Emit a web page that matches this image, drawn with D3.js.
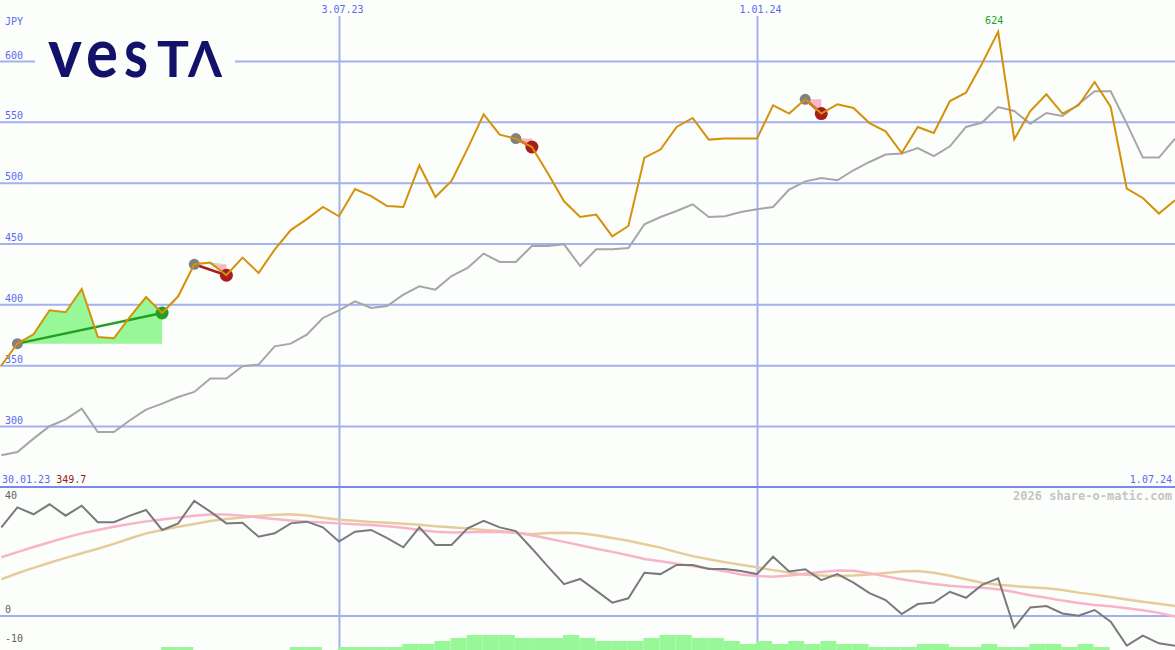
<!DOCTYPE html>
<html><head><meta charset="utf-8">
<script src="https://cdn.jsdelivr.net/npm/d3@7"></script>
<style>html,body{margin:0;padding:0;background:#fcfefc;} svg{display:block;}</style>
</head><body><svg id="c" width="1175" height="650"></svg>
<script>
// ---------- data (weekly, Mondays from 6 Feb 2023) ----------
const price = [349.7,367.7,375.4,395.1,393.5,412.6,373.2,372.1,389.6,406.0,
  392.9,406.6,432.9,434.3,423.9,438.4,425.8,445.0,461.0,470.0,
  480.0,472.4,494.8,489.0,480.8,480.0,514.3,488.2,501.4,528.0,
  556.2,539.5,536.2,529.3,507.5,484.7,471.8,473.8,455.9,464.4,
  520.6,527.2,545.8,553.2,535.4,536.2,536.2,536.2,563.6,556.8,
  568.5,556.8,564.4,561.4,549.0,542.2,524.4,545.8,540.8,567.1,
  574.0,598.0,624.0,535.6,558.9,572.6,556.8,563.6,582.7,562.2,
  495.1,487.4,474.6,485.5];
const bench = [275.9,278.6,289.6,299.8,305.5,314.3,295.1,295.1,304.7,313.5,
  318.4,323.8,328.0,339.0,339.0,349.1,350.5,365.5,367.7,375.1,
  388.8,395.1,402.5,397.0,398.6,408.0,414.8,412.1,423.3,429.9,
  441.7,434.8,434.8,448.0,448.0,449.3,431.5,445.2,445.2,446.3,
  465.8,471.8,476.7,482.2,471.8,472.4,475.9,478.1,480.0,494.3,
  501.1,503.8,502.0,510.2,517.0,523.1,523.9,528.5,521.9,529.9,
  545.8,549.4,562.2,558.9,548.5,557.3,554.8,564.4,575.1,575.1,
  548.5,520.6,520.6,536.2];
const momentum = [31.1,38.1,35.7,39.2,35.2,38.7,32.9,32.9,35.2,37.2,
  30.2,32.5,40.4,36.6,32.5,32.7,27.8,29.0,32.5,33.1,
  31.1,26.1,29.6,30.2,27.3,24.1,31.1,24.9,24.9,30.8,
  33.4,31.1,29.8,23.7,17.3,11.2,13.0,8.9,4.7,6.2,
  15.2,14.7,17.9,17.9,16.5,16.5,15.8,14.7,20.8,15.6,
  16.4,12.6,14.7,11.7,8.0,5.6,0.7,4.2,4.7,8.5,
  6.4,10.9,13.2,-4.1,3.0,3.5,0.9,0.1,2.1,-2.0,
  -10.4,-6.9,-9.6,-10.4];
const avgPink = [20.6,22.4,24.2,25.9,27.5,29.0,30.2,31.3,32.3,33.2,
  33.9,34.6,35.2,35.6,35.6,35.2,34.6,34.0,33.5,33.1,
  32.8,32.5,32.2,31.9,31.5,31.0,30.2,29.6,29.3,29.4,
  29.6,29.5,29.2,28.3,27.2,26.0,24.8,23.6,22.5,21.3,
  20.0,19.2,18.3,17.5,16.7,15.7,14.6,14.0,13.8,14.2,
  14.8,15.4,16.0,15.9,15.0,13.9,12.9,12.0,11.2,10.6,
  10.2,9.9,9.4,8.4,7.3,6.4,5.4,4.6,3.9,3.4,
  2.7,2.0,1.1,-0.2];
const avgTan = [12.9,15.0,16.9,18.7,20.4,22.0,23.6,25.3,27.2,29.0,
  30.2,31.3,32.3,33.3,34.0,34.6,35.1,35.5,35.7,35.3,
  34.5,33.8,33.4,33.0,32.7,32.4,32.0,31.5,31.1,30.7,
  30.2,29.8,29.2,28.7,29.1,29.2,29.0,28.3,27.4,26.4,
  25.2,24.0,22.4,21.0,19.9,18.9,18.0,17.1,16.1,15.3,
  14.5,14.2,14.0,14.2,14.6,15.1,15.6,15.8,15.2,14.1,
  12.9,11.7,11.0,10.5,10.1,9.7,9.1,8.2,7.5,6.7,
  5.8,5.0,4.3,3.5];
const barLevels = [0,0,0,0,0,0,0,0,0,0,
  1,1,0,0,0,0,0,0,1,1,
  0,1,1,1,1,2,2,3,4,5,
  5,5,4,4,4,5,4,3,3,3,
  4,5,5,4,4,3,2,3,2,3,
  2,3,2,2,1,1,1,2,2,1,
  1,2,1,1,2,2,1,2,1,0,
  0,0,0,0];
const trades = [[1,10],[12,14],[32,33],[50,51]];
const priceTicks = [300,350,400,450,500,550,600];
const lowerTicks = [40,0,-10];
const dateTicks = [new Date(Date.UTC(2023,6,3)), new Date(Date.UTC(2024,0,1))];
const dateTickLabels = ["3.07.23","1.01.24"];
const currency = "JPY";
const startLabel = "30.01.23", startValue = "349.7", endLabel = "1.07.24";
const credit = "2026 share-o-matic.com";
const logoLetters = [
  {ch:"v", x0:48, w:34, cap:false},
  {ch:"e", x0:86, w:32, cap:false},
  {ch:"s", x0:124, w:24, cap:false},
  {ch:"T", x0:157, w:32, cap:true},
  {ch:"Λ", x0:188, w:34, cap:true}];

// ---------- layout ----------
const W = 1175, H = 650;
const BG = "#fcfefc", GRID = "#a4b0f0", LBL = "#5a6af0", MONO = "'DejaVu Sans Mono', monospace";
const dates = d3.utcMonday.range(new Date(Date.UTC(2023,1,6)), new Date(Date.UTC(2024,6,2)));
const x = d3.scaleUtc().domain([new Date(Date.UTC(2023,1,5,10)), new Date(Date.UTC(2024,6,1))]).range([0, W]);
const y = d3.scaleLinear().domain([300, 600]).range([426, 61]);
const y2 = d3.scaleLinear().domain([0, 40]).range([616, 502]);
const yb = d3.scaleLinear().domain([0, 5]).range([H, H - 15]);
const svg = d3.select("#c");
svg.append("rect").attr("width", W).attr("height", H).attr("fill", BG);

// horizontal grid (price panel)
const gy = svg.append("g").call(d3.axisRight(y).tickValues(priceTicks).tickSize(W).tickFormat(d3.format("d")));
gy.select(".domain").remove();
gy.selectAll("line").attr("stroke", GRID).attr("stroke-width", 2);
gy.selectAll("text").attr("x", 5).attr("dy", -3).attr("text-anchor", "start")
  .attr("fill", LBL).style("font", "10px " + MONO);

// vertical date lines
const gx = svg.append("g").attr("transform", "translate(0,16)")
  .call(d3.axisTop(x).tickValues(dateTicks).tickSize(-(H - 16)).tickFormat((d, i) => dateTickLabels[i]));
gx.select(".domain").remove();
gx.selectAll("line").attr("stroke", GRID).attr("stroke-width", 2);
gx.selectAll("text").attr("y", -3).attr("dx", 3).attr("fill", LBL).style("font", "10px " + MONO);

// lower panel zero line and separator
svg.append("line").attr("x1", 0).attr("x2", W).attr("y1", y2(0)).attr("y2", y2(0)).attr("stroke", GRID).attr("stroke-width", 2);
svg.append("line").attr("x1", 0).attr("x2", W).attr("y1", 487).attr("y2", 487).attr("stroke", "#7888ee").attr("stroke-width", 2);
svg.selectAll("text.lt").data(lowerTicks).enter().append("text").attr("class", "lt")
  .attr("x", 5).attr("y", d => y2(d) - 3).attr("fill", "#606060").style("font", "10px " + MONO).text(d => d);

// logo
svg.append("rect").attr("x", 35).attr("y", 33).attr("width", 200).attr("height", 55).attr("fill", BG);
svg.selectAll("text.logo").data(logoLetters).enter().append("text").attr("class", "logo")
  .attr("x", d => d.x0).attr("y", 77)
  .attr("textLength", d => d.w).attr("lengthAdjust", "spacingAndGlyphs")
  .attr("fill", "#12126a")
  .style("font-family", "Lato, 'DejaVu Sans', sans-serif").style("font-weight", 700)
  .style("font-size", d => d.cap ? "49px" : "69px")
  .text(d => d.ch);

// labels
svg.append("text").attr("x", 5).attr("y", 25).attr("fill", LBL).style("font", "10px " + MONO).text(currency);
const bl = svg.append("text").attr("x", 2).attr("y", 483).style("font", "10px " + MONO);
bl.append("tspan").attr("fill", LBL).text(startLabel + " ");
bl.append("tspan").attr("fill", "#a01818").text(startValue);
svg.append("text").attr("x", W - 3).attr("y", 483).attr("text-anchor", "end").attr("fill", LBL).style("font", "10px " + MONO).text(endLabel);
svg.append("text").attr("x", W - 3).attr("y", 500).attr("text-anchor", "end").attr("fill", "#c4c4c4")
  .style("font", "bold 12px " + MONO).text(credit);

// bars at bottom
svg.selectAll("rect.bar").data(barLevels.slice(0, -1)).enter().append("rect").attr("class", "bar")
  .attr("x", (d, i) => x(dates[i]) - 1).attr("width", (d, i) => x(dates[i + 1]) - x(dates[i]))
  .attr("y", d => yb(d)).attr("height", d => yb(0) - yb(d)).attr("fill", "#98f898");

// lower lines
const idx = d3.range(dates.length);
const lowLine = arr => d3.line().x(i => x(dates[i])).y(i => y2(arr[i]))(idx);
svg.append("path").attr("d", lowLine(avgTan)).attr("fill", "none").attr("stroke", "#e6cc98").attr("stroke-width", 2.5);
svg.append("path").attr("d", lowLine(avgPink)).attr("fill", "none").attr("stroke", "#f8b4c8").attr("stroke-width", 2.5);
svg.append("path").attr("d", lowLine(momentum)).attr("fill", "none").attr("stroke", "#7a7a7a").attr("stroke-width", 2);

// trade fills
trades.forEach(([a, b]) => {
  const seg = d3.range(a, b + 1), entry = price[a];
  const up = d3.area().x(i => x(dates[i])).y0(y(entry)).y1(i => y(Math.max(price[i], entry)));
  const dn = d3.area().x(i => x(dates[i])).y0(y(entry)).y1(i => y(Math.min(price[i], entry)));
  svg.append("path").attr("d", up(seg)).attr("fill", "#98f898");
  svg.append("path").attr("d", dn(seg)).attr("fill", "#f8b8c8");
});

// benchmark line
const topLine = arr => d3.line().x(i => x(dates[i])).y(i => y(arr[i]))(idx);
svg.append("path").attr("d", topLine(bench)).attr("fill", "none").attr("stroke", "#a6a6a6").attr("stroke-width", 2);

// trade lines and dots
trades.forEach(([a, b]) => {
  const win = price[b] >= price[a];
  const col = win ? "#22a022" : "#a81c1c";
  svg.append("line").attr("x1", x(dates[a])).attr("y1", y(price[a])).attr("x2", x(dates[b])).attr("y2", y(price[b]))
    .attr("stroke", col).attr("stroke-width", 2.5);
  svg.append("circle").attr("cx", x(dates[a])).attr("cy", y(price[a])).attr("r", 5.5).attr("fill", "#808080");
  svg.append("circle").attr("cx", x(dates[b])).attr("cy", y(price[b])).attr("r", 6.5).attr("fill", col);
});

// price line
svg.append("path").attr("d", topLine(price)).attr("fill", "none").attr("stroke", "#d4910a").attr("stroke-width", 2);

// max label
const iMax = d3.maxIndex(price);
svg.append("text").attr("x", x(dates[iMax]) - 4).attr("y", y(price[iMax]) - 8).attr("text-anchor", "middle")
  .attr("fill", "#22a022").style("font", "10px " + MONO).text(d3.format("d")(price[iMax]));
</script></body></html>
